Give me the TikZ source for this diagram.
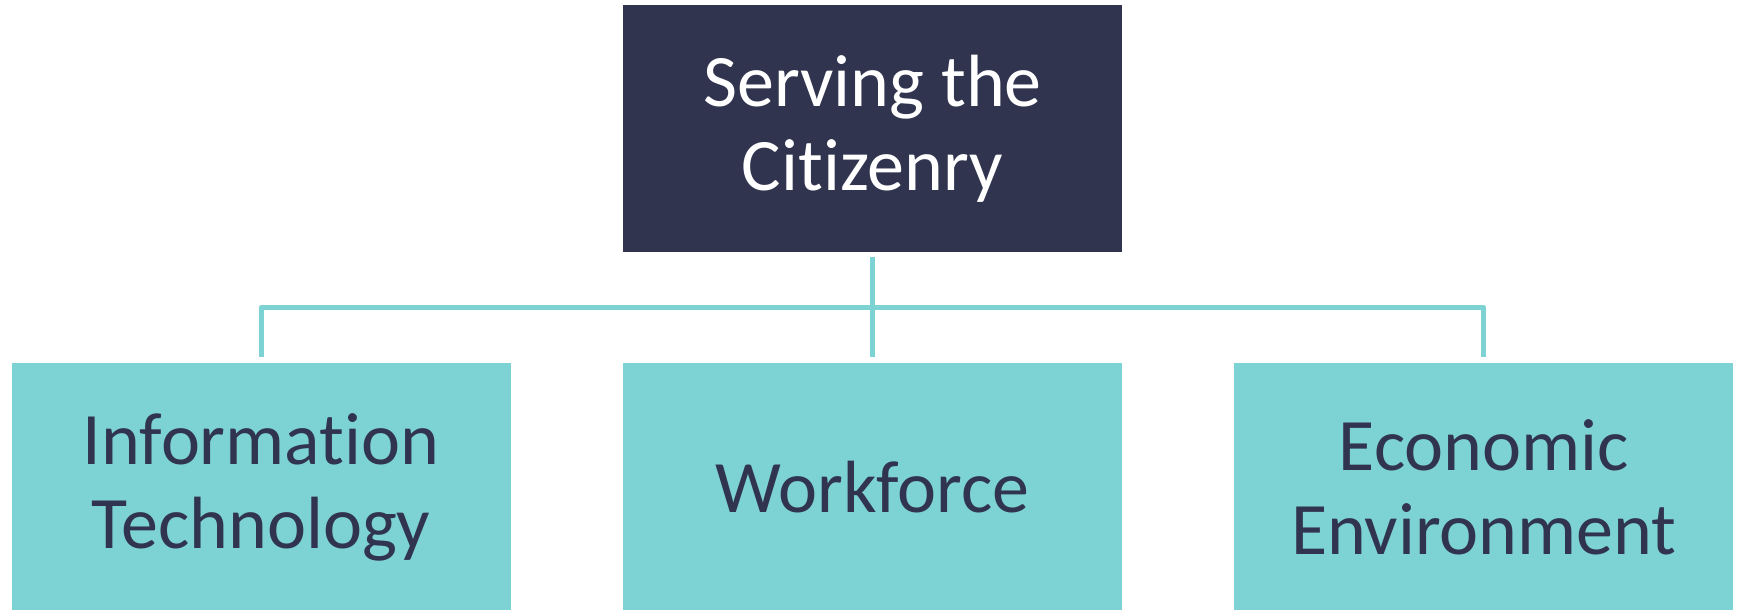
\documentclass[tikz,border=0pt]{standalone}
\usepackage{fontspec}
\setmainfont{Carlito}[Ligatures=NoCommon]
\usetikzlibrary{positioning,calc}
\definecolor{NightBlue}{HTML}{30344F}
\definecolor{SoftTeal}{HTML}{7DD3D3}

\begin{document}
\begin{tikzpicture}[x=1pt, y=1pt, node distance=112pt,
  box/.style={rectangle, minimum width=499pt, minimum height=247pt, inner sep=0pt, align=center,
    font=\fontsize{74}{84}\selectfont},
  headbox/.style={box, fill=NightBlue, text=white},
  areabox/.style={box, fill=SoftTeal, text=NightBlue},
  link/.style={draw=SoftTeal, line width=5pt, line join=round}]
  \useasboundingbox (0,0) rectangle (1737,-610);

  \node[headbox] (citizen) at (872.5,-128.5) {Serving the\\Citizenry};
  \node[areabox, below=111pt of citizen] (workforce) {Workforce};
  \node[areabox, left=112pt of workforce] (infotech) {Information\\Technology};
  \node[areabox, right=112pt of workforce] (economy) {Economic\\Environment};

  % tree connectors
  \coordinate (bus) at ($(citizen.south)!0.5!(workforce.north)$);
  \draw[link] ([yshift=-5pt]citizen.south) -- ([yshift=6pt]workforce.north);
  \draw[link] ([yshift=6pt]infotech.north) |- (bus) -| ([yshift=6pt]economy.north);
\end{tikzpicture}
\end{document}
